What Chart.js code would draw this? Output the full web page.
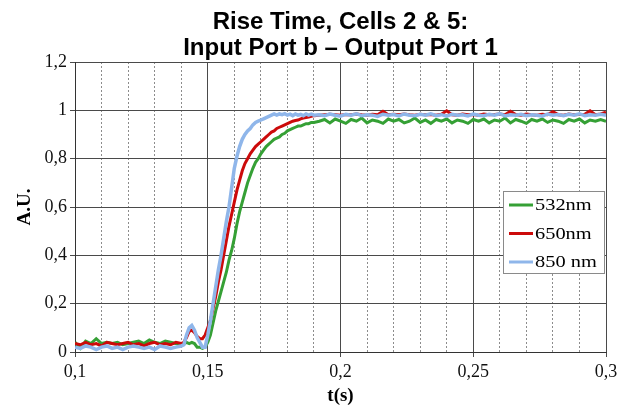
<!DOCTYPE html>
<html>
<head>
<meta charset="utf-8">
<script src="https://cdn.jsdelivr.net/npm/chart.js@4"></script>
<style>
  body { margin: 0; background: #fff; }
  canvas { display: block; }
</style>
</head>
<body>
<canvas id="chart" width="626" height="409"></canvas>
<script>
// Datos (tiempo en s, amplitud en A.U.)
const tSec = [
  0.100, 0.102, 0.104, 0.106, 0.108, 0.110, 0.112, 0.114, 0.116, 0.118,
  0.120, 0.122, 0.124, 0.126, 0.128, 0.130, 0.132, 0.134, 0.136, 0.138, 0.140,
  0.141, 0.142, 0.143, 0.144, 0.145, 0.146, 0.147, 0.148, 0.149, 0.150,
  0.151, 0.152, 0.153, 0.154, 0.155, 0.156, 0.157, 0.158, 0.159, 0.160,
  0.161, 0.162, 0.163, 0.164, 0.165, 0.166, 0.167, 0.168, 0.169, 0.170,
  0.171, 0.172, 0.173, 0.174, 0.175, 0.176, 0.177, 0.178, 0.179, 0.180,
  0.181, 0.182, 0.183, 0.184, 0.185, 0.186, 0.187, 0.188, 0.189, 0.190,
  0.192, 0.194, 0.196, 0.198, 0.200, 0.202, 0.204, 0.206, 0.208, 0.210,
  0.212, 0.214, 0.216, 0.218, 0.220, 0.222, 0.224, 0.226, 0.228, 0.230,
  0.232, 0.234, 0.236, 0.238, 0.240, 0.242, 0.244, 0.246, 0.248, 0.250,
  0.252, 0.254, 0.256, 0.258, 0.260, 0.262, 0.264, 0.266, 0.268, 0.270,
  0.272, 0.274, 0.276, 0.278, 0.280, 0.282, 0.284, 0.286, 0.288, 0.290,
  0.292, 0.294, 0.296, 0.298, 0.300
];

const v532 = [
  0.040, 0.015, 0.045, 0.035, 0.055, 0.035, 0.040, 0.035, 0.040, 0.030,
  0.035, 0.040, 0.045, 0.035, 0.050, 0.040, 0.035, 0.045, 0.040, 0.035, 0.030,
  0.035, 0.040, 0.035, 0.040, 0.035, 0.020, 0.020, 0.015, 0.020, 0.040,
  0.070, 0.120, 0.170, 0.210, 0.250, 0.290, 0.330, 0.380, 0.420, 0.470,
  0.530, 0.580, 0.620, 0.660, 0.700, 0.730, 0.760, 0.785, 0.800, 0.820,
  0.835, 0.850, 0.860, 0.870, 0.880, 0.885, 0.890, 0.900, 0.905, 0.915,
  0.920, 0.925, 0.930, 0.935, 0.935, 0.940, 0.945, 0.945, 0.950, 0.950,
  0.955, 0.962, 0.948, 0.964, 0.955, 0.946, 0.962, 0.955, 0.968, 0.948,
  0.960, 0.955, 0.946, 0.964, 0.955, 0.962, 0.948, 0.955, 0.968, 0.950,
  0.960, 0.946, 0.962, 0.955, 0.964, 0.948, 0.960, 0.955, 0.946, 0.962,
  0.955, 0.964, 0.948, 0.960, 0.955, 0.968, 0.948, 0.962, 0.955, 0.946,
  0.962, 0.955, 0.964, 0.950, 0.960, 0.955, 0.946, 0.962, 0.955, 0.964,
  0.948, 0.960, 0.955, 0.962, 0.955
];

const v650 = [
  0.035, 0.030, 0.040, 0.030, 0.035, 0.025, 0.040, 0.035, 0.030, 0.035,
  0.040, 0.030, 0.035, 0.025, 0.035, 0.040, 0.030, 0.035, 0.030, 0.040, 0.035,
  0.040, 0.060, 0.085, 0.090, 0.080, 0.065, 0.055, 0.055, 0.070, 0.100,
  0.130, 0.180, 0.230, 0.290, 0.340, 0.400, 0.460, 0.520, 0.570, 0.620,
  0.670, 0.710, 0.750, 0.780, 0.800, 0.820, 0.835, 0.850, 0.860, 0.870,
  0.880, 0.890, 0.900, 0.910, 0.915, 0.925, 0.930, 0.935, 0.940, 0.945,
  0.950, 0.955, 0.958, 0.960, 0.965, 0.968, 0.970, 0.972, 0.975, 0.978,
  0.980, 0.982, 0.984, 0.982, 0.980, 0.983, 0.982, 0.985, 0.982, 0.980,
  0.984, 0.982, 0.996, 0.982, 0.984, 0.982, 0.985, 0.982, 0.980, 0.984,
  0.982, 0.983, 0.980, 0.984, 0.998, 0.982, 0.980, 0.985, 0.982, 0.983,
  0.980, 0.985, 0.982, 0.983, 0.985, 0.982, 0.996, 0.983, 0.980, 0.985,
  0.982, 0.980, 0.984, 0.982, 0.994, 0.982, 0.980, 0.985, 0.982, 0.983,
  0.984, 0.998, 0.982, 0.985, 0.992
];

const v850 = [
  0.020, 0.015, 0.025, 0.020, 0.010, 0.020, 0.025, 0.015, 0.020, 0.010,
  0.020, 0.025, 0.020, 0.015, 0.020, 0.010, 0.025, 0.020, 0.015, 0.020, 0.025,
  0.030, 0.070, 0.100, 0.110, 0.090, 0.060, 0.040, 0.020, 0.020, 0.070,
  0.130, 0.200, 0.270, 0.340, 0.400, 0.470, 0.540, 0.600, 0.680, 0.760,
  0.810, 0.850, 0.880, 0.900, 0.915, 0.925, 0.940, 0.950, 0.955, 0.960,
  0.965, 0.970, 0.975, 0.980, 0.985, 0.980, 0.985, 0.982, 0.986, 0.980,
  0.984, 0.978, 0.985, 0.980, 0.983, 0.978, 0.985, 0.980, 0.984, 0.980,
  0.982, 0.978, 0.985, 0.980, 0.976, 0.984, 0.980, 0.986, 0.978, 0.982,
  0.980, 0.975, 0.984, 0.980, 0.983, 0.977, 0.985, 0.980, 0.978, 0.984,
  0.980, 0.986, 0.978, 0.982, 0.976, 0.984, 0.980, 0.982, 0.977, 0.985,
  0.980, 0.978, 0.984, 0.980, 0.986, 0.977, 0.982, 0.980, 0.984, 0.978,
  0.982, 0.980, 0.976, 0.985, 0.980, 0.983, 0.978, 0.984, 0.980, 0.986,
  0.978, 0.982, 0.980, 0.984, 0.980
];

const seriesNames = ['532nm', '650nm', '850 nm'];
const seriesColors = ['#35a035', '#cc0a0a', '#8fb6ea'];
const xTickLabels = ['0,1', '0,15', '0,2', '0,25', '0,3'];
const yTickLabels = ['0', '0,2', '0,4', '0,6', '0,8', '1', '1,2'];
const titleLines = ['Rise Time, Cells 2 & 5:', 'Input Port b \u2013 Output Port 1'];
const xTitle = 't(s)';
const yTitle = 'A.U.';

const serif = '"Liberation Serif", "Times New Roman", serif';
const sans = '"Liberation Sans", Arial, sans-serif';

function toPoints(vals) {
  return vals.map((v, i) => ({ x: tSec[i], y: v }));
}

// el azul encima, luego rojo, luego verde
const datasets = [v532, v650, v850].map((vals, i) => ({
  label: seriesNames[i],
  data: toPoints(vals),
  borderColor: seriesColors[i],
  borderWidth: i === 2 ? 3.5 : 3,
  pointRadius: 0,
  tension: 0,
  order: 3 - i
}));

const isMajorX = ctx => ctx.index % 5 === 0;

// Títulos, etiquetas de ejes y leyenda
const decorations = {
  id: 'decorations',
  afterDraw(chart) {
    const { ctx, chartArea } = chart;
    const cx = (chartArea.left + chartArea.right) / 2;
    ctx.save();
    ctx.fillStyle = '#000';
    ctx.textAlign = 'center';
    ctx.textBaseline = 'middle';
    ctx.font = 'bold 24px ' + sans;
    ctx.fillText(titleLines[0], cx, 22);
    ctx.fillText(titleLines[1], cx, 48);

    ctx.font = 'bold 19px ' + serif;
    ctx.fillText(xTitle, cx, 396);
    ctx.translate(25, 207);
    ctx.rotate(-Math.PI / 2);
    ctx.fillText(yTitle, 0, 0);
    ctx.restore();

    // leyenda
    ctx.save();
    ctx.fillStyle = '#fff';
    ctx.fillRect(503, 191, 102, 83);
    ctx.strokeStyle = '#8a8a8a';
    ctx.lineWidth = 1;
    ctx.strokeRect(503.5, 191.5, 101, 82);
    ctx.font = '17px ' + serif;
    ctx.textAlign = 'left';
    ctx.textBaseline = 'middle';
    chart.data.datasets.forEach((ds, i) => {
      const y = 205 + i * 28.5;
      ctx.strokeStyle = ds.borderColor;
      ctx.lineWidth = 3;
      ctx.beginPath();
      ctx.moveTo(509, y);
      ctx.lineTo(533, y);
      ctx.stroke();
      ctx.fillStyle = '#000';
      ctx.save();
      ctx.translate(535, y);
      ctx.scale(1.2, 1);
      ctx.fillText(ds.label, 0, 1);
      ctx.restore();
    });
    ctx.restore();
  }
};

new Chart(document.getElementById('chart'), {
  type: 'line',
  data: { datasets },
  options: {
    responsive: false,
    animation: false,
    layout: { padding: { top: 62, right: 20, left: 0, bottom: 0 } },
    plugins: {
      legend: { display: false },
      title: { display: false },
      tooltip: { enabled: false }
    },
    scales: {
      x: {
        type: 'linear',
        min: 0.1,
        max: 0.3,
        afterFit: s => { s.height = 57; },
        ticks: {
          stepSize: 0.01,
          autoSkip: false,
          maxRotation: 0,
          padding: 4,
          color: '#111',
          font: { family: serif, size: 18 },
          callback: (v, i) => (i % 5 === 0 ? xTickLabels[i / 5] : '')
        },
        grid: {
          color: ctx => (isMajorX(ctx) ? '#4a4a4a' : '#8c8c8c'),
          lineWidth: 1,
          tickLength: 5,
          tickColor: ctx => (isMajorX(ctx) ? '#4a4a4a' : 'rgba(0,0,0,0)')
        },
        border: {
          color: '#333',
          dash: ctx => (ctx.tick && !isMajorX(ctx) ? [2, 2] : [])
        }
      },
      y: {
        min: 0,
        max: 1.2,
        afterFit: s => { s.width = 75; },
        ticks: {
          stepSize: 0.2,
          padding: 3,
          color: '#111',
          font: { family: serif, size: 18 },
          callback: (v, i) => yTickLabels[i]
        },
        grid: {
          color: '#4a4a4a',
          lineWidth: 1,
          tickLength: 5
        },
        border: { color: '#333' }
      }
    }
  },
  plugins: [decorations]
});
</script>
</body>
</html>
